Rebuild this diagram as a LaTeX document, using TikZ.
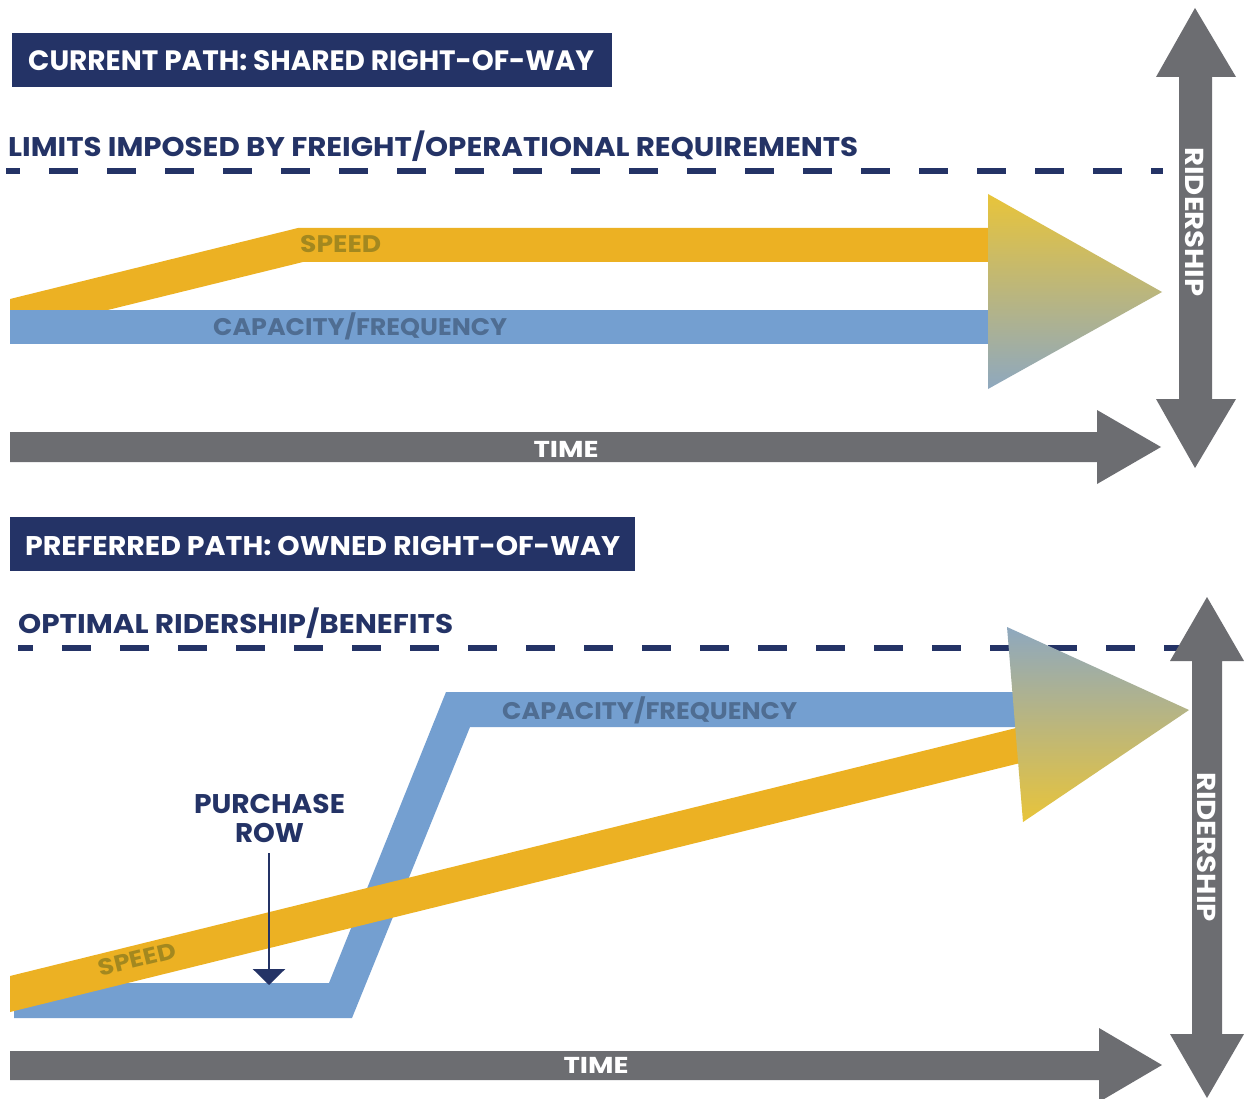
\documentclass[tikz,border=0pt]{standalone}
\usepackage{fontspec}
\usepackage{graphicx}
\setmainfont{Poppins}
\usetikzlibrary{arrows.meta}
\definecolor{navy}{HTML}{243366}
\definecolor{speedorange}{HTML}{ECB123}
\definecolor{capblue}{HTML}{749FD0}
\definecolor{greyarrow}{HTML}{6C6D71}
\definecolor{speedtxt}{HTML}{A3881F}
\definecolor{captxt}{HTML}{4F6D92}
\definecolor{gradyellow}{HTML}{E8C43A}
\definecolor{gradblue}{HTML}{8EA8BF}
\newsavebox\fitbox
\newlength\fitlen
\newcommand\fitx[2]{\sbox\fitbox{#2}\setlength\fitlen{\wd\fitbox}\pgfmathsetmacro\fitsx{#1/\the\fitlen}\scalebox{\fitsx}[1]{\usebox\fitbox}}
\tikzset{
  lbl/.style={inner sep=0pt, anchor=base west, font=\bfseries},
  clbl/.style={inner sep=0pt, anchor=base, font=\bfseries},
  dashline/.style={draw=navy, line width=5.5pt, dash pattern=on 29pt off 29pt},
  bigarrow/.style={fill=greyarrow},
  titlebox/.style={fill=navy},
}
\begin{document}
\begin{tikzpicture}[x=1pt,y=-1pt]
\useasboundingbox (0,0) rectangle (1244,1099);
\fill[white] (0,0) rectangle (1244,1099);

% ---------- TOP SECTION ----------
\fill[titlebox] (12,33) rectangle (612,87);
\node[lbl, text=white, font=\bfseries\fontsize{28}{30}\selectfont] (t1) at (28,71) {\fitx{566}{CURRENT PATH: SHARED RIGHT-OF-WAY}};
\node[lbl, text=navy, font=\bfseries\fontsize{27}{29}\selectfont] (lim) at (8,157) {\fitx{850}{LIMITS IMPOSED BY FREIGHT/OPERATIONAL REQUIREMENTS}};
\draw[dashline, dash phase=15pt] (6,171) -- (1163,171);

% speed band (top)
\fill[speedorange] (10,299) -- (298,228) -- (995,228) -- (995,262) -- (303,262) -- (10,334) -- cycle;
% capacity band (top)
\fill[capblue] (10,310) rectangle (995,344);
\node[lbl, text=speedtxt, font=\bfseries\fontsize{24}{26}\selectfont] (sp1) at (300,253) {\fitx{81}{SPEED}};
\node[lbl, text=captxt, font=\bfseries\fontsize{24}{26}\selectfont] (cf1) at (213,335) {\fitx{294}{CAPACITY/FREQUENCY}};
% gradient triangle
\shade[top color=gradyellow, bottom color=gradblue] (988,194) -- (1162,292) -- (988,389) -- cycle;

% time arrow (top)
\fill[bigarrow] (10,432) -- (1097,432) -- (1097,410) -- (1161,447) -- (1097,484) -- (1097,462) -- (10,462) -- cycle;
\node[clbl, text=white, font=\bfseries\fontsize{23}{25}\selectfont] (time1) at (566,457) {\fitx{65}{TIME}};
% ridership arrow (top)
\fill[bigarrow] (1195,8) -- (1236,77) -- (1212,77) -- (1212,399) -- (1236,399) -- (1195,468) -- (1156,399) -- (1179,399) -- (1179,77) -- (1156,77) -- cycle;
\node[clbl, text=white, rotate=-90, font=\bfseries\fontsize{26}{28}\selectfont] (rid1) at (1185,222) {\fitx{149}{RIDERSHIP}};

% ---------- BOTTOM SECTION ----------
\fill[titlebox] (10,517) rectangle (635,571);
\node[lbl, text=white, font=\bfseries\fontsize{27}{29}\selectfont] (t2) at (25,555) {\fitx{595}{PREFERRED PATH: OWNED RIGHT-OF-WAY}};
\node[lbl, text=navy, font=\bfseries\fontsize{27}{29}\selectfont] (opt) at (18,633) {\fitx{435}{OPTIMAL RIDERSHIP/BENEFITS}};
\draw[dashline, dash phase=14pt] (18,648) -- (1180,648);

% capacity band (bottom)
\fill[capblue] (14,983) -- (329,983) -- (446,692) -- (1025,692) -- (1025,727) -- (470,727) -- (352,1018) -- (14,1018) -- cycle;
\node[lbl, text=captxt, font=\bfseries\fontsize{24}{26}\selectfont] (cf2) at (502,719) {\fitx{295}{CAPACITY/FREQUENCY}};
% speed band (bottom)
\fill[speedorange] (10,976) -- (1030,724.6) -- (1030,760.6) -- (10,1012) -- cycle;
\node[clbl, text=speedtxt, rotate=13.8, font=\bfseries\fontsize{23}{25}\selectfont] (sp2) at (139,967) {\fitx{79}{SPEED}};
% gradient triangle
\shade[top color=gradblue, bottom color=gradyellow] (1007,627) -- (1189,710) -- (1023,822) -- cycle;

% purchase ROW
\node[clbl, text=navy, font=\bfseries\fontsize{27}{29}\selectfont] (pur) at (269.5,813) {\fitx{151}{PURCHASE}};
\node[clbl, text=navy, font=\bfseries\fontsize{27}{29}\selectfont] (row) at (269.5,842) {\fitx{69}{ROW}};
\coordinate (rowtop) at (269,853);
\coordinate (rowtip) at (269,985);
\draw[navy, line width=2.6pt, -{Triangle[width=32pt,length=16pt]}] (rowtop) -- (rowtip);

% time arrow (bottom)
\fill[bigarrow] (10,1051) -- (1099,1051) -- (1099,1028) -- (1162,1065) -- (1099,1102) -- (1099,1080) -- (10,1080) -- cycle;
\node[clbl, text=white, font=\bfseries\fontsize{23}{25}\selectfont] (time2) at (596,1073) {\fitx{65}{TIME}};
% ridership arrow (bottom)
\fill[bigarrow] (1207,597) -- (1244,661) -- (1222,661) -- (1222,1034) -- (1244,1034) -- (1207,1098) -- (1170,1034) -- (1192,1034) -- (1192,661) -- (1170,661) -- cycle;
\node[clbl, text=white, rotate=-90, font=\bfseries\fontsize{26}{28}\selectfont] (rid2) at (1197,847) {\fitx{150}{RIDERSHIP}};
\end{tikzpicture}
\end{document}
